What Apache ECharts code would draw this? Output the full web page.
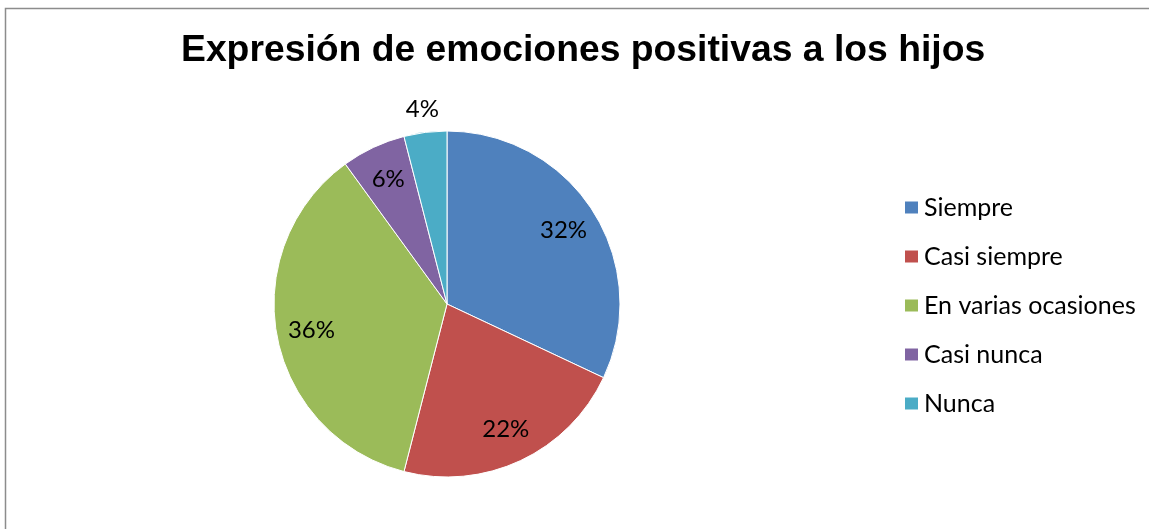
<!DOCTYPE html>
<html>
<head>
<meta charset="utf-8">
<script src="https://cdn.jsdelivr.net/npm/echarts@6/dist/echarts.min.js"></script>
<style>
  html, body { margin: 0; padding: 0; background: #fff; }
  #chart { width: 1149px; height: 529px; }
</style>
</head>
<body>
<div id="chart"></div>
<script>
  // datos
  const categories = ['Siempre', 'Casi siempre', 'En varias ocasiones', 'Casi nunca', 'Nunca']
  const values = [32, 22, 36, 6, 4]
  const colors = ['#4F81BD', '#C0504D', '#9BBB59', '#8064A2', '#4BACC6']
  // etiquetas que van fuera del sector
  const outsideLabels = ['Nunca']

  const labelFont = { fontFamily: 'Lato', fontSize: 24, color: '#000' }

  const pieData = categories.map((name, i) => ({ name, value: values[i] }))

  // serie transparente solo para colocar etiquetas a otra distancia
  const labelSeries = (radius, showFn) => ({
    type: 'pie',
    center: [447, 304],
    radius: [0, radius],
    startAngle: 90,
    clockwise: true,
    silent: true,
    avoidLabelOverlap: false,
    emphasis: { disabled: true },
    itemStyle: { color: 'rgba(0,0,0,0)', borderWidth: 0 },
    labelLine: { show: false },
    data: pieData.map(d => ({
      name: d.name,
      value: d.value,
      label: { show: showFn(d.name) }
    })),
    label: Object.assign({
      position: 'inside',
      formatter: p => p.value + '%'
    }, labelFont)
  })

  const chart = echarts.init(document.getElementById('chart'))
  chart.setOption({
    animation: false,
    color: colors,
    title: {
      text: 'Expresión de emociones positivas a los hijos',
      left: 176,
      top: 27,
      textStyle: {
        fontFamily: 'Liberation Sans',
        fontWeight: 'bold',
        fontSize: 37.3,
        color: '#000'
      }
    },
    legend: {
      orient: 'vertical',
      left: 898,
      top: 190,
      itemWidth: 15,
      itemHeight: 14,
      itemGap: 24,
      icon: 'rect',
      data: categories,
      textStyle: Object.assign({}, labelFont, { fontSize: 25, lineHeight: 24 })
    },
    graphic: [{
      type: 'rect',
      silent: true,
      shape: { x: 5.5, y: 8.5, width: 1300, height: 700 },
      style: { fill: 'none', stroke: '#8c8c8c', lineWidth: 1.5 }
    }],
    series: [
      {
        type: 'pie',
        center: [447, 304],
        radius: [0, 173],
        startAngle: 90,
        clockwise: true,
        avoidLabelOverlap: false,
        itemStyle: { borderColor: '#fff', borderWidth: 1 },
        label: { show: false },
        labelLine: { show: false },
        data: pieData
      },
      labelSeries(270, n => outsideLabels.indexOf(n) < 0),
      labelSeries(386, n => outsideLabels.indexOf(n) >= 0)
    ]
  })
</script>
</body>
</html>
